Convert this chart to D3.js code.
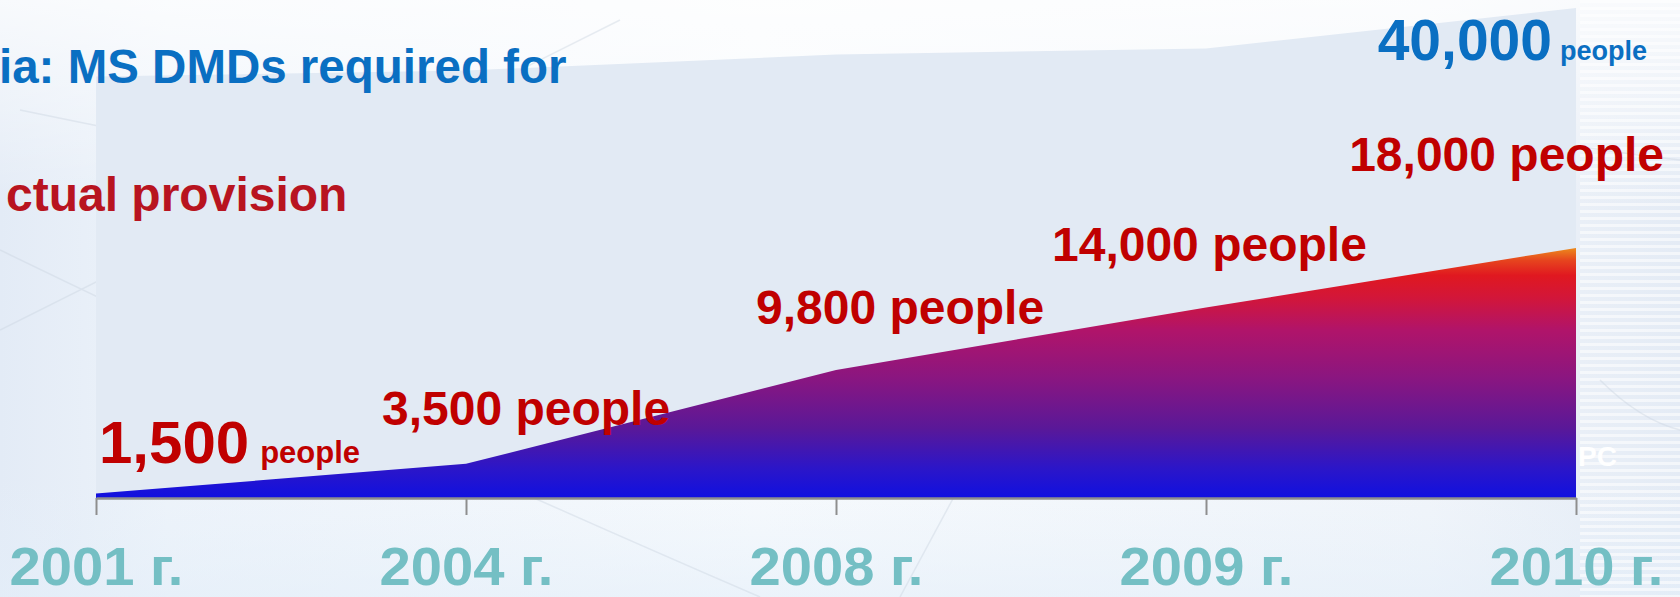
<!DOCTYPE html>
<html>
<head>
<meta charset="utf-8">
<script src="https://cdn.jsdelivr.net/npm/d3@7"></script>
<style>
html,body{margin:0;padding:0;overflow:hidden;background:#f2f6fb}
svg{display:block}
</style>
</head>
<body>
<svg id="chart" width="1680" height="597"></svg>
<script>
// ---- data ----
const years = ["2001", "2004", "2008", "2009", "2010"];
const actualProvision = [1500, 3500, 9800, 14000, 18000];
const requiredPatients = [34400, 34900, 36200, 36700, 40000];
const yearSuffix = " г.";
const titleRequired = "ia: MS DMDs required for";
const titleActual = "ctual provision";
const unitLabel = "people";
const cornerNote = "PC";

// ---- layout ----
const W = 1680, H = 597;
const svg = d3.select("#chart");
const FONT = "'Liberation Sans', Arial, Helvetica, sans-serif";

const x = d3.scalePoint().domain(years).range([96, 1576]);
const yA = d3.scaleLinear().domain([1200, 18000]).range([498, 248]);
const yR = d3.scaleLinear().domain([0, 40000]).range([498, 8]);
const base = yA.range()[0];
const fmt = d3.format(",");

const actual = years.map((y, i) => ({year: y, value: actualProvision[i]}));
const required = years.map((y, i) => ({year: y, value: requiredPatients[i]}));

const defs = svg.append("defs");

// background gradients
const bgH = defs.append("linearGradient").attr("id", "bgH").attr("x1", 0).attr("x2", 1).attr("y1", 0).attr("y2", 0);
[[0, "#e3ebf6"], [0.1, "#edf3fa"], [0.45, "#f7fafd"], [0.85, "#f1f5fa"], [1, "#e4ebf5"]]
  .forEach(([o, c]) => bgH.append("stop").attr("offset", o).attr("stop-color", c));
const bgV = defs.append("linearGradient").attr("id", "bgV").attr("x1", 0).attr("x2", 0).attr("y1", 0).attr("y2", 1);
[[0, "#ffffff", 0.75], [0.35, "#ffffff", 0.0], [0.8, "#e6f0fa", 0.0], [1, "#e3eef9", 0.6]]
  .forEach(([o, c, a]) => bgV.append("stop").attr("offset", o).attr("stop-color", c).attr("stop-opacity", a));

const stripes = defs.append("pattern").attr("id", "stripes").attr("patternUnits", "userSpaceOnUse")
  .attr("width", 8).attr("height", 7);
stripes.append("rect").attr("width", 8).attr("height", 3).attr("fill", "#ffffff").attr("opacity", 0.55);

// area gradient
const g = defs.append("linearGradient").attr("id", "areaGrad")
  .attr("gradientUnits", "userSpaceOnUse")
  .attr("x1", 0).attr("x2", 0)
  .attr("y1", yA(actualProvision[actualProvision.length - 1])).attr("y2", base);
[[0, "#ec8a1c"], [0.05, "#e6441e"], [0.11, "#e01820"], [0.2, "#d2163a"], [0.33, "#b0146a"],
 [0.52, "#8a1680"], [0.72, "#5a1898"], [0.88, "#2c16c8"], [1, "#1010e0"]]
  .forEach(([o, c]) => g.append("stop").attr("offset", o).attr("stop-color", c));

// background
svg.append("rect").attr("width", W).attr("height", H).attr("fill", "url(#bgH)");
svg.append("rect").attr("width", W).attr("height", H).attr("fill", "url(#bgV)");
svg.append("rect").attr("x", 1580).attr("y", 0).attr("width", 100).attr("height", H).attr("fill", "url(#stripes)");

// faint decorative lines
const deco = svg.append("g").attr("stroke", "#c9d3df").attr("fill", "none").attr("stroke-width", 1.5).attr("opacity", 0.4);
deco.append("path").attr("d", "M0,330 L620,20");
deco.append("path").attr("d", "M0,250 Q350,420 760,597");
deco.append("path").attr("d", "M20,110 Q600,230 1300,330");
deco.append("path").attr("d", "M1260,80 Q1500,140 1680,160");
deco.append("path").attr("d", "M900,597 L1060,300");
deco.append("path").attr("d", "M1600,380 Q1640,420 1680,430");

// required area (panel)
svg.append("path").datum(required)
  .attr("fill", "#e2eaf4")
  .attr("d", d3.area().x(d => x(d.year)).y0(base).y1(d => yR(d.value)));

// actual area
svg.append("path").datum(actual)
  .attr("fill", "url(#areaGrad)")
  .attr("d", d3.area().x(d => x(d.year)).y0(base).y1(d => yA(d.value)));

// axis
const axis = svg.append("g").attr("transform", `translate(0,${base})`)
  .call(d3.axisBottom(x).tickSize(17).tickSizeOuter(0).tickFormat(d => d + yearSuffix));
axis.select(".domain").attr("stroke", "#8e8e8e").attr("stroke-width", 2.5);
axis.selectAll(".tick line").attr("stroke", "#8e8e8e").attr("stroke-width", 2);
axis.selectAll(".tick text")
  .attr("y", 87).attr("dy", null)
  .attr("transform", "scale(1.04,1)")
  .attr("fill", "#74bfc4")
  .style("font-family", FONT).style("font-weight", "bold").style("font-size", "54px");

// titles
svg.append("text").attr("x", -1).attr("y", 83)
  .attr("fill", "#0a6fc2").style("font-family", FONT).style("font-weight", "bold").style("font-size", "47.5px")
  .text(titleRequired);
svg.append("text").attr("x", 6).attr("y", 211)
  .attr("fill", "#b81420").style("font-family", FONT).style("font-weight", "bold").style("font-size", "48px")
  .text(titleActual);

// value labels for actual provision
const labelLayout = [
  {dx: 3, dy: -31, anchor: "start", split: true},
  {dx: -84, dy: -39, anchor: "start"},
  {dx: -80, dy: -46, anchor: "start"},
  {dx: -154, dy: -47, anchor: "start"},
  {dx: 88, dy: -77, anchor: "end"}
];
const labels = svg.append("g").style("font-family", FONT).style("font-weight", "bold").attr("fill", "#c00000");
actual.forEach((d, i) => {
  const L = labelLayout[i];
  const t = labels.append("text")
    .attr("x", x(d.year) + L.dx).attr("y", yA(d.value) + L.dy)
    .attr("text-anchor", L.anchor);
  if (L.split) {
    t.append("tspan").style("font-size", "60px").text(fmt(d.value));
    t.append("tspan").attr("dx", 11).style("font-size", "31px").text(unitLabel);
  } else {
    t.style("font-size", "48px").text(fmt(d.value) + " " + unitLabel);
  }
});

// required total label
const last = required[required.length - 1];
const rt = svg.append("text")
  .attr("x", x(last.year) + 71).attr("y", yR(last.value) + 52)
  .attr("text-anchor", "end").attr("fill", "#0a6fc2")
  .style("font-family", FONT).style("font-weight", "bold");
rt.append("tspan").style("font-size", "57px").text(fmt(last.value));
rt.append("tspan").attr("dx", 8).style("font-size", "27px").text(unitLabel);

// corner note
svg.append("text").attr("x", x(years[years.length - 1]) + 2).attr("y", 466)
  .attr("fill", "#ffffff").style("font-family", FONT).style("font-weight", "bold").style("font-size", "28px")
  .text(cornerNote);
</script>
</body>
</html>
